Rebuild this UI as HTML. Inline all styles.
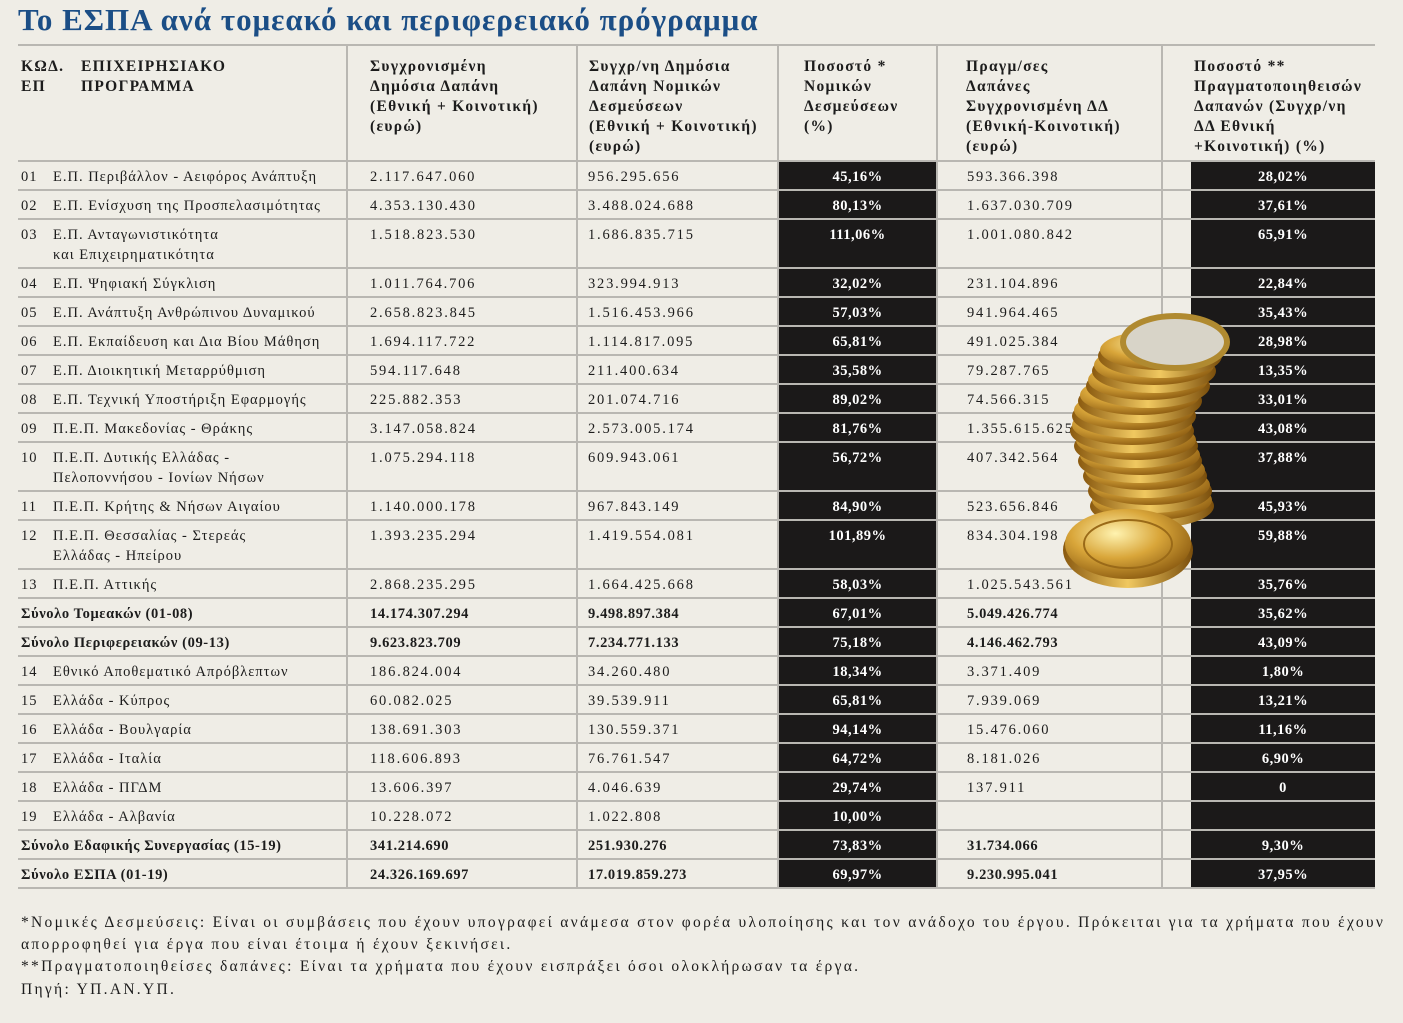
<!DOCTYPE html>
<html><head><meta charset="utf-8">
<style>
body{margin:0;width:1403px;height:1023px;background:#efede6;overflow:hidden;position:relative;font-family:"Liberation Serif","DejaVu Serif",serif;color:#1c1c1c}
.t{position:absolute;white-space:nowrap}
#title{left:18px;top:2px;font-size:31px;font-weight:bold;color:#1b4e86;letter-spacing:1px}
.h{font-size:15.5px;line-height:20px;font-weight:bold;letter-spacing:1.3px}
.c{font-size:14.5px;letter-spacing:1px}
.n{letter-spacing:1.8px}
.b{font-weight:bold;letter-spacing:0.6px}
.w{color:#fff;font-weight:bold;text-align:center;letter-spacing:0.5px}
.line{position:absolute;background:#b9b7b2}
.blk{position:absolute;background:#1b1919}
.fn{position:absolute;left:21px;font-size:15.5px;letter-spacing:2.3px;white-space:nowrap}
</style></head><body>
<div class="t" id="title">Το ΕΣΠΑ ανά τομεακό και περιφερειακό πρόγραμμα</div>
<div id="tbl"></div>
<svg style="position:absolute;left:1040px;top:300px" width="220" height="300">
<defs>
<radialGradient id="g" cx="40%" cy="35%" r="70%"><stop offset="0" stop-color="#fff3b0"/><stop offset="0.5" stop-color="#d9a63a"/><stop offset="1" stop-color="#8a5a10"/></radialGradient>
<linearGradient id="e" x1="0" x2="1"><stop offset="0" stop-color="#8a5a10"/><stop offset="0.5" stop-color="#f0c860"/><stop offset="1" stop-color="#7a4e0c"/></linearGradient>
</defs>
<g id="coins"></g>
<ellipse cx="88" cy="250" rx="65" ry="38" fill="url(#e)"/>
<ellipse cx="88" cy="244" rx="63" ry="35" fill="url(#g)"/>
<ellipse cx="88" cy="244" rx="44" ry="24" fill="none" stroke="#9a6a18" stroke-width="2"/>
</svg>
<div class="fn" style="top:914px">*Νομικές Δεσμεύσεις: Είναι οι συμβάσεις που έχουν υπογραφεί ανάμεσα στον φορέα υλοποίησης και τον ανάδοχο του έργου. Πρόκειται για τα χρήματα που έχουν</div>
<div class="fn" style="top:936px">απορροφηθεί για έργα που είναι έτοιμα ή έχουν ξεκινήσει.</div>
<div class="fn" style="top:958px">**Πραγματοποιηθείσες δαπάνες: Είναι τα χρήματα που έχουν εισπράξει όσοι ολοκλήρωσαν τα έργα.</div>
<div class="fn" style="top:981px">Πηγή: ΥΠ.ΑΝ.ΥΠ.</div>
<script>
const codes=["01","02","03","04","05","06","07","08","09","10","11","12","13","","","14","15","16","17","18","19","",""];
const names=[["Ε.Π. Περιβάλλον - Αειφόρος Ανάπτυξη"],["Ε.Π. Ενίσχυση της Προσπελασιμότητας"],["Ε.Π. Ανταγωνιστικότητα","και Επιχειρηματικότητα"],["Ε.Π. Ψηφιακή Σύγκλιση"],["Ε.Π. Ανάπτυξη Ανθρώπινου Δυναμικού"],["Ε.Π. Εκπαίδευση και Δια Βίου Μάθηση"],["Ε.Π. Διοικητική Μεταρρύθμιση"],["Ε.Π. Τεχνική Υποστήριξη Εφαρμογής"],["Π.Ε.Π. Μακεδονίας - Θράκης"],["Π.Ε.Π. Δυτικής Ελλάδας -","Πελοποννήσου - Ιονίων Νήσων"],["Π.Ε.Π. Κρήτης & Νήσων Αιγαίου"],["Π.Ε.Π. Θεσσαλίας - Στερεάς","Ελλάδας - Ηπείρου"],["Π.Ε.Π. Αττικής"],["Σύνολο Τομεακών (01-08)"],["Σύνολο Περιφερειακών (09-13)"],["Εθνικό Αποθεματικό Απρόβλεπτων"],["Ελλάδα - Κύπρος"],["Ελλάδα - Βουλγαρία"],["Ελλάδα - Ιταλία"],["Ελλάδα - ΠΓΔΜ"],["Ελλάδα - Αλβανία"],["Σύνολο Εδαφικής Συνεργασίας (15-19)"],["Σύνολο ΕΣΠΑ (01-19)"]];
const publicSpend=["2.117.647.060","4.353.130.430","1.518.823.530","1.011.764.706","2.658.823.845","1.694.117.722","594.117.648","225.882.353","3.147.058.824","1.075.294.118","1.140.000.178","1.393.235.294","2.868.235.295","14.174.307.294","9.623.823.709","186.824.004","60.082.025","138.691.303","118.606.893","13.606.397","10.228.072","341.214.690","24.326.169.697"];
const commitments=["956.295.656","3.488.024.688","1.686.835.715","323.994.913","1.516.453.966","1.114.817.095","211.400.634","201.074.716","2.573.005.174","609.943.061","967.843.149","1.419.554.081","1.664.425.668","9.498.897.384","7.234.771.133","34.260.480","39.539.911","130.559.371","76.761.547","4.046.639","1.022.808","251.930.276","17.019.859.273"];
const commitPct=["45,16%","80,13%","111,06%","32,02%","57,03%","65,81%","35,58%","89,02%","81,76%","56,72%","84,90%","101,89%","58,03%","67,01%","75,18%","18,34%","65,81%","94,14%","64,72%","29,74%","10,00%","73,83%","69,97%"];
const spent=["593.366.398","1.637.030.709","1.001.080.842","231.104.896","941.964.465","491.025.384","79.287.765","74.566.315","1.355.615.625","407.342.564","523.656.846","834.304.198","1.025.543.561","5.049.426.774","4.146.462.793","3.371.409","7.939.069","15.476.060","8.181.026","137.911","","31.734.066","9.230.995.041"];
const spentPct=["28,02%","37,61%","65,91%","22,84%","35,43%","28,98%","13,35%","33,01%","43,08%","37,88%","45,93%","59,88%","35,76%","35,62%","43,09%","1,80%","13,21%","11,16%","6,90%","0","","9,30%","37,95%"];
const tbl=document.getElementById('tbl');
function add(cls,x,y,txt,extra){const d=document.createElement('div');d.className=cls;d.style.left=x+'px';d.style.top=y+'px';if(extra)Object.assign(d.style,extra);d.innerHTML=txt;tbl.appendChild(d);return d;}
let l;
l=add('line',18,44,'',{width:'1357px',height:'2px'});


const hdr=[[21,"ΚΩΔ.<br>ΕΠ"],[81,"ΕΠΙΧΕΙΡΗΣΙΑΚΟ<br>ΠΡΟΓΡΑΜΜΑ"],[370,"Συγχρονισμένη<br>Δημόσια Δαπάνη<br>(Εθνική + Κοινοτική)<br>(ευρώ)"],[589,"Συγχρ/νη Δημόσια<br>Δαπάνη Νομικών<br>Δεσμεύσεων<br>(Εθνική + Κοινοτική)<br>(ευρώ)"],[804,"Ποσοστό *<br>Νομικών<br>Δεσμεύσεων<br>(%)"],[966,"Πραγμ/σες<br>Δαπάνες<br>Συγχρονισμένη ΔΔ<br>(Εθνική-Κοινοτική)<br>(ευρώ)"],[1194,"Ποσοστό **<br>Πραγματοποιηθεισών<br>Δαπανών (Συγχρ/νη<br>ΔΔ Εθνική<br>+Κοινοτική) (%)"]];
hdr.forEach((h,i)=>{const d=add('t h',h[0],57,h[1]);

});
const vx=[347,577,778,937,1162];
vx.forEach((x)=>{const d=add('line',x-1,45,'',{width:'2px',height:'844px'});

});
let y=160;
l=add('line',18,y,'',{width:'1357px',height:'2px'});


for(let i=0;i<codes.length;i++){
  const h=names[i].length>1?49:29;
  const bold=codes[i]==="";
  const b1=add('blk',779,y+2,'',{width:'157px',height:(h-2)+'px'});
  
  
  const b2=add('blk',1191,y+2,'',{width:'184px',height:(h-2)+'px'});
  
  
  const ty=y+9;const cls='t c'+(bold?' b':'');const ncls='t c'+(bold?' b':' n');
  if(codes[i]){const d=add(cls,21,ty,codes[i]);
    
    }
  const nm=add(cls,bold?21:53,ty,names[i].join('<br>'),{lineHeight:'20px',marginTop:'-2px'});
  
  
  let d=add(ncls,370,ty,publicSpend[i]);
  
  
  d=add(ncls,588,ty,commitments[i]);
  
  
  d=add('t c w',779,ty,commitPct[i],{width:'157px'});
  
  
  d=add(ncls,967,ty,spent[i]);
  
  
  d=add('t c w',1191,ty,spentPct[i],{width:'184px'});
  
  
  y+=h;
  l=add('line',18,y,'',{width:'1357px',height:'2px'});
  
  
}
const cg=document.getElementById('coins');const svgns='http://www.w3.org/2000/svg';
const coinStack=[[112,200],[110,185],[105,170],[100,155],[96,140],[92,125],[94,110],[100,95],[108,80],[114,65],[120,50]];
coinStack.forEach(p=>{
  const e=document.createElementNS(svgns,'ellipse');e.setAttribute('cx',p[0]);e.setAttribute('cy',p[1]+6);e.setAttribute('rx',62);e.setAttribute('ry',22);e.setAttribute('fill','url(#e)');cg.appendChild(e);
  const f=document.createElementNS(svgns,'ellipse');f.setAttribute('cx',p[0]);f.setAttribute('cy',p[1]);f.setAttribute('rx',60);f.setAttribute('ry',20);f.setAttribute('fill','url(#g)');cg.appendChild(f);
});
const topCoin=document.createElementNS(svgns,'ellipse');topCoin.setAttribute('cx',135);topCoin.setAttribute('cy',42);topCoin.setAttribute('rx',52);topCoin.setAttribute('ry',26);topCoin.setAttribute('fill','#d8d4c8');topCoin.setAttribute('stroke','#b08a30');topCoin.setAttribute('stroke-width','6');cg.appendChild(topCoin);
</script>
</body></html>
